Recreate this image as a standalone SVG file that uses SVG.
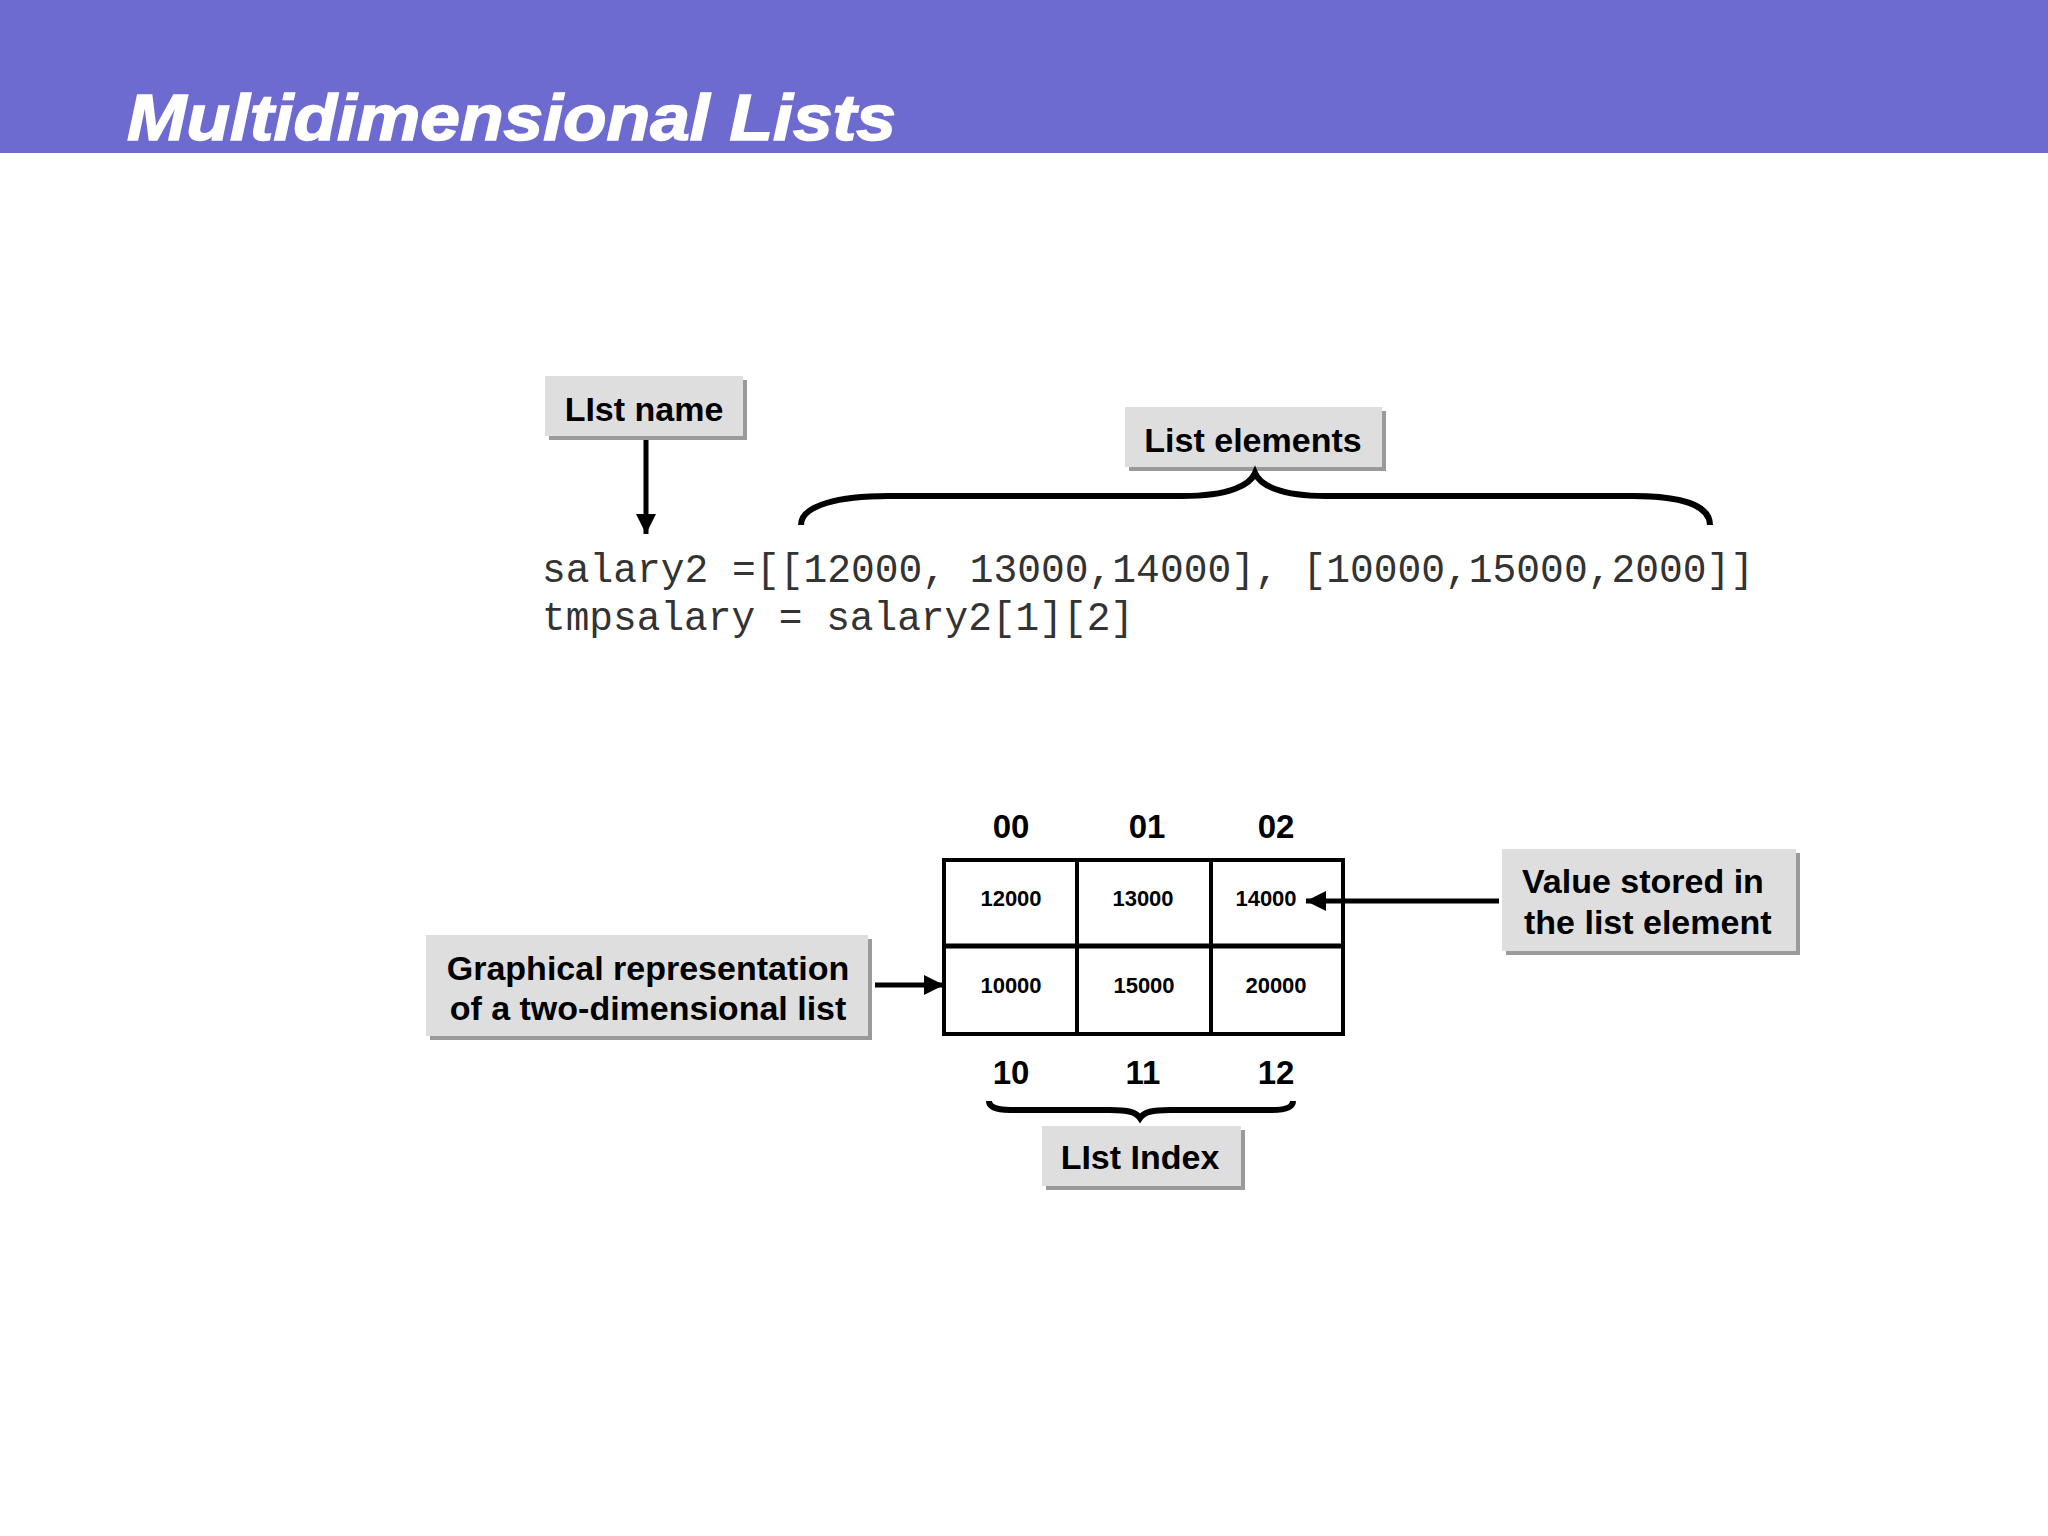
<svg xmlns="http://www.w3.org/2000/svg" width="2048" height="1536" viewBox="0 0 2048 1536">
<style>
.lbl{font-family:"Liberation Sans",Arial,sans-serif;font-weight:bold;font-size:34px;fill:#000}
.idx{font-family:"Liberation Sans",Arial,sans-serif;font-weight:bold;font-size:33px;fill:#000;text-anchor:middle}
.cell{font-family:"Liberation Sans",Arial,sans-serif;font-weight:bold;font-size:22px;fill:#000;text-anchor:middle}
.code{font-family:"Liberation Mono","Courier New",monospace;font-size:40px;fill:#333}
.box{fill:#dedede}
.shadow{fill:#9a9a9a}
.line{stroke:#000;stroke-width:5;fill:none}
.brace{stroke:#000;stroke-width:6;fill:none;stroke-linecap:butt}
</style>
<defs>
<marker id="arr" viewBox="0 0 10 10" refX="10" refY="5" markerWidth="4" markerHeight="4" orient="auto" markerUnits="strokeWidth">
<path d="M0,0 L10,5 L0,10 z" fill="#000"/>
</marker>
</defs>
<rect x="0" y="0" width="2048" height="153" fill="#6d6bd0"/>
<text x="127" y="140" font-family="'Liberation Sans',Arial,sans-serif" font-weight="bold" font-style="italic" font-size="64" fill="#fff" stroke="#fff" stroke-width="1.5" textLength="769" lengthAdjust="spacingAndGlyphs">Multidimensional Lists</text>

<g id="code">
<text class="code" x="542" y="582" textLength="1212" lengthAdjust="spacingAndGlyphs">salary2 =[[12000, 13000,14000], [10000,15000,2000]]</text>
<text class="code" x="542" y="630" textLength="592" lengthAdjust="spacingAndGlyphs">tmpsalary = salary2[1][2]</text>
</g>

<g id="list-name">
<rect class="shadow" x="549" y="380" width="198" height="60"/>
<rect class="box" x="545" y="376" width="198" height="60"/>
<text class="lbl" x="644" y="421" text-anchor="middle" font-size="33">LIst name</text>
</g>

<g id="list-elements">
<rect class="shadow" x="1129" y="411" width="257" height="60"/>
<rect class="box" x="1125" y="407" width="257" height="60"/>
<text class="lbl" x="1253" y="452" text-anchor="middle" font-size="33">List elements</text>
</g>

<g id="grid">
<rect x="944" y="860" width="399" height="174" fill="#fff" stroke="#000" stroke-width="4"/>
<line x1="1077" y1="860" x2="1077" y2="1034" stroke="#000" stroke-width="4"/>
<line x1="1211" y1="860" x2="1211" y2="1034" stroke="#000" stroke-width="4"/>
<line x1="944" y1="946" x2="1343" y2="946" stroke="#000" stroke-width="5"/>
<text class="cell" x="1011" y="906">12000</text>
<text class="cell" x="1143" y="906">13000</text>
<text class="cell" x="1266" y="906">14000</text>
<text class="cell" x="1011" y="993">10000</text>
<text class="cell" x="1144" y="993">15000</text>
<text class="cell" x="1276" y="993">20000</text>
<text class="idx" x="1011" y="838">00</text>
<text class="idx" x="1147" y="838">01</text>
<text class="idx" x="1276" y="838">02</text>
<text class="idx" x="1011" y="1084">10</text>
<text class="idx" x="1143" y="1084">11</text>
<text class="idx" x="1276" y="1084">12</text>
</g>

<g id="value-stored">
<rect class="shadow" x="1506" y="853" width="294" height="102"/>
<rect class="box" x="1502" y="849" width="294" height="102"/>
<text class="lbl" x="1522" y="893">Value stored in</text>
<text class="lbl" x="1524" y="934">the list element</text>
</g>

<g id="graphical">
<rect class="shadow" x="430" y="939" width="442" height="101"/>
<rect class="box" x="426" y="935" width="442" height="101"/>
<text class="lbl" x="648" y="980" text-anchor="middle">Graphical representation</text>
<text class="lbl" x="648" y="1020" text-anchor="middle">of a two-dimensional list</text>
</g>

<g id="list-index">
<rect class="shadow" x="1046" y="1130" width="199" height="60"/>
<rect class="box" x="1042" y="1126" width="199" height="60"/>
<text class="lbl" x="1140" y="1169" text-anchor="middle" font-size="33">LIst Index</text>
</g>

<g id="connectors">
<line class="line" x1="646" y1="440" x2="646" y2="534" marker-end="url(#arr)"/>
<line class="line" x1="1499" y1="901" x2="1306" y2="901" marker-end="url(#arr)"/>
<line class="line" x1="875" y1="985" x2="944" y2="985" marker-end="url(#arr)"/>
<path class="brace" d="M801,525 C801,505 840,496 888,496 L1182,496 C1230,496 1250,485 1255,473 C1260,485 1280,496 1326,496 L1633,496 C1680,496 1710,505 1710,525"/>
<path class="brace" stroke-width="5" d="M989,1101 C989,1108 1000,1110 1010,1110 L1110,1110 C1128,1110 1136,1112 1140,1118 C1144,1112 1152,1110 1170,1110 L1272,1110 C1284,1110 1293,1108 1293,1101"/>
</g>
</svg>
